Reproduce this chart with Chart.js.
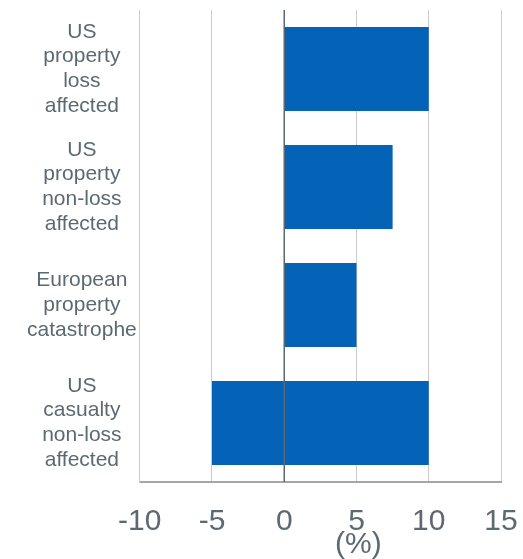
<!DOCTYPE html>
<html>
<head>
<meta charset="utf-8">
<script src="https://cdn.jsdelivr.net/npm/chart.js@4/dist/chart.umd.min.js"></script>
<style>
  html, body { margin: 0; padding: 0; background: #fff; }
  #wrap { width: 523px; height: 559px; }
</style>
</head>
<body>
<div id="wrap"><canvas id="myChart"></canvas></div>
<script>
const categories = [
    ['US', 'property', 'loss', 'affected'],
    ['US', 'property', 'non-loss', 'affected'],
    ['European', 'property', 'catastrophe'],
    ['US', 'casualty', 'non-loss', 'affected']
]
const rangeLow = [0, 0, 0, -5]
const rangeHigh = [10, 7.5, 5, 10]
const xTicks = [-10, -5, 0, 5, 10, 15]
const unitLabel = '(%)'

const textGrey = '#5d6971'

// zero line sits on top of the bars, title overlaps the ticks like in the original
const extras = {
    id: 'extras',
    afterDatasetsDraw(chart) {
        const c = chart.ctx
        const area = chart.chartArea
        const x0 = chart.scales.x.getPixelForValue(0)
        c.save()
        c.strokeStyle = '#5b6770'
        c.lineWidth = 1.5
        c.beginPath()
        c.moveTo(x0, area.top)
        c.lineTo(x0, area.bottom)
        c.stroke()
        c.restore()
    },
    afterDraw(chart) {
        const c = chart.ctx
        const area = chart.chartArea
        c.save()
        c.fillStyle = textGrey
        c.font = '30px "Liberation Sans", Arial, sans-serif'
        c.textAlign = 'center'
        c.textBaseline = 'middle'
        c.fillText(unitLabel, (area.left + area.right) / 2 + 38, area.bottom + 63)
        c.restore()
    }
}

try {
    const ctx = document.getElementById('myChart').getContext('2d')
    const myChart = new Chart(ctx, {
        type: 'bar',
        data: {
            labels: categories,
            datasets: [{
                data: rangeLow.map((v, i) => [v, rangeHigh[i]]),
                backgroundColor: '#0563b7',
                borderWidth: 0,
                barPercentage: 0.71,
                categoryPercentage: 1
            }]
        },
        options: {
            indexAxis: 'y',
            responsive: true,
            maintainAspectRatio: false,
            animation: false,
            plugins: {
                legend: {display: false},
                tooltip: {enabled: false}
            },
            layout: {
                padding: {top: 10, left: 24, right: 22, bottom: 0}
            },
            scales: {
                x: {
                    min: -10,
                    max: 15,
                    afterBuildTicks: (axis) => { axis.ticks = xTicks.map(v => ({value: v})) },
                    afterFit: (scale) => { scale.paddingLeft = 0; scale.paddingRight = 0; scale.height = 77 },
                    grid: {color: '#cccccc', lineWidth: 1, drawTicks: false},
                    border: {display: true, color: '#a6a6a6', width: 2},
                    ticks: {
                        color: textGrey,
                        padding: 22,
                        font: {family: '"Liberation Sans", Arial, sans-serif', size: 30, lineHeight: 1.2}
                    }
                },
                y: {
                    afterFit: (scale) => { scale.paddingTop = 0; scale.paddingBottom = 0 },
                    grid: {display: false, drawTicks: false},
                    border: {display: true, color: '#cccccc', width: 1},
                    ticks: {
                        color: textGrey,
                        padding: 3,
                        crossAlign: 'center',
                        font: {family: '"Liberation Sans", Arial, sans-serif', size: 21, lineHeight: 1.18}
                    }
                }
            }
        },
        plugins: [extras]
    })
} catch (error) {
    console.log(error)
}
</script>
</body>
</html>
